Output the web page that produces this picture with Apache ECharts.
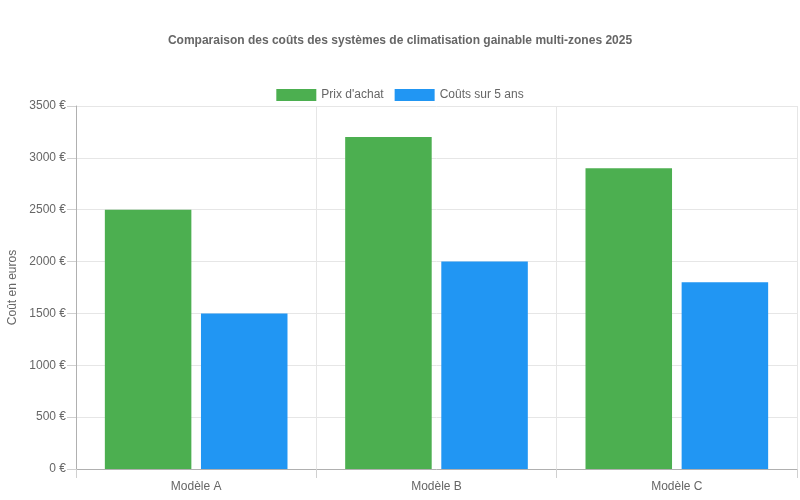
<!DOCTYPE html>
<html><head><meta charset="utf-8">
<script src="https://cdn.jsdelivr.net/npm/echarts@6/dist/echarts.min.js"></script>
<style>html,body{margin:0;padding:0;background:#fff}#c{width:800px;height:500px}</style>
</head><body><div id="c"></div>
<script>
const categories = ['Modèle A', 'Modèle B', 'Modèle C'];
const prixAchat = [2500, 3200, 2900];
const couts5ans = [1500, 2000, 1800];
const seriesNames = ["Prix d'achat", 'Coûts sur 5 ans'];
const titleText = 'Comparaison des coûts des systèmes de climatisation gainable multi-zones 2025';
const yAxisTitle = 'Coût en euros';

const chart = echarts.init(document.getElementById('c'), null, {renderer: 'canvas'});
const font = '"Liberation Sans", Arial, Helvetica, sans-serif';
chart.setOption({
  animation: false,
  textStyle: {fontFamily: font},
  title: {
    text: titleText, left: 'center', top: 30,
    textStyle: {fontSize: 12, fontWeight: 'bold', color: '#666', fontFamily: font}
  },
  legend: {
    top: 84, left: 'center', itemWidth: 40, itemHeight: 12, itemGap: 11, icon: 'rect',
    textStyle: {fontSize: 12, color: '#666', fontFamily: font},
    data: seriesNames
  },
  grid: {left: 76, right: 3, top: 106, bottom: 31, containLabel: false, outerBoundsMode: 'none'},
  xAxis: {
    type: 'category', data: categories,
    axisLine: {lineStyle: {color: '#b0b0b0'}},
    axisTick: {show: true, length: 9, lineStyle: {color: '#d0d0d0'}},
    axisLabel: {color: '#666', fontSize: 12, margin: 12, fontFamily: font},
    splitLine: {show: true, lineStyle: {color: '#e6e6e6'}}
  },
  yAxis: {
    type: 'value', min: 0, max: 3500, interval: 500,
    name: yAxisTitle, nameLocation: 'middle', nameRotate: 90, nameGap: 55,
    nameTextStyle: {color: '#666', fontSize: 12, fontFamily: font},
    axisLine: {show: true, lineStyle: {color: '#b0b0b0'}},
    axisTick: {show: true, length: 9, lineStyle: {color: '#d0d0d0'}},
    axisLabel: {color: '#666', fontSize: 12, margin: 10, formatter: v => v + ' €', fontFamily: font},
    splitLine: {show: true, lineStyle: {color: '#e6e6e6'}}
  },
  series: [
    {name: seriesNames[0], type: 'bar', data: prixAchat, barWidth: '36%', barGap: '11.1%',
     itemStyle: {color: '#4CAF50'}},
    {name: seriesNames[1], type: 'bar', data: couts5ans, barWidth: '36%', barGap: '11.1%',
     itemStyle: {color: '#2196F3'}}
  ]
});
</script></body></html>
